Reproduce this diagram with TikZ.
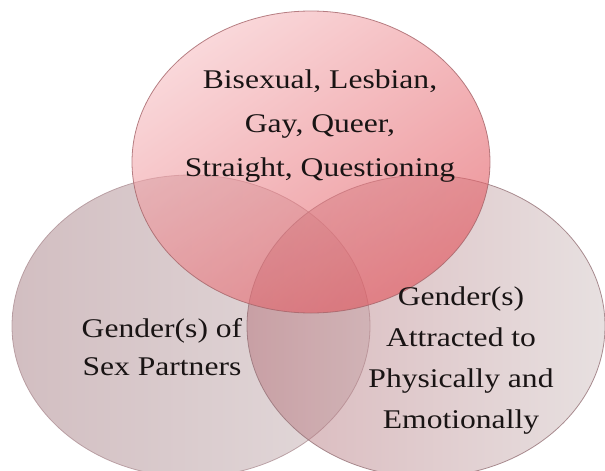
\documentclass[tikz,border=0pt]{standalone}
\usepackage{fontspec}
\usepackage{graphicx}
\setmainfont{Liberation Serif}
\usetikzlibrary{shapes.geometric}
\definecolor{topA}{RGB}{246,190,194}
\definecolor{topB}{RGB}{224,78,86}
\definecolor{leftA}{RGB}{165,125,131}
\definecolor{leftB}{RGB}{200,182,184}
\definecolor{rightA}{RGB}{180,112,120}
\definecolor{rightB}{RGB}{208,194,194}
\definecolor{topLine}{RGB}{165,100,105}
\definecolor{leftLine}{RGB}{175,145,150}
\definecolor{rightLine}{RGB}{150,115,120}
\definecolor{txt}{RGB}{25,20,20}
\tikzset{
  venn/.style={ellipse, minimum width=358pt, minimum height=302pt, inner sep=0pt,
    line width=0.8pt, draw opacity=0.8},
  lbl/.style={anchor=base, inner sep=0pt, text=txt},
}
\newcommand{\lblbox}[2]{\fontsize{27}{#1}\selectfont\scalebox{1.17}[1]{\begin{tabular}[t]{@{}c@{}}#2\end{tabular}}}
\begin{document}
\begin{tikzpicture}[x=1pt,y=-1pt]
\useasboundingbox (0,0) rectangle (605,471);
\node[venn, draw=leftLine, fill opacity=0.5, left color=leftA, right color=leftB] (L) at (191,326) {};
\node[venn, draw=rightLine, fill opacity=0.5, left color=rightA, right color=rightB] (R) at (426,326) {};
\node[venn, draw=topLine, fill opacity=0.6, shading=axis, top color=topA, bottom color=topB, shading angle=35] (T) at (311,162) {};
\node[lbl] (tT) at (320,88) {\lblbox{44}{Bisexual, Lesbian,\\Gay, Queer,\\Straight, Questioning}};
\node[lbl] (tL) at (162,337) {\lblbox{38}{Gender(s) of\\Sex Partners}};
\node[lbl] (tR) at (461,305) {\lblbox{41}{Gender(s)\\Attracted to\\Physically and\\Emotionally}};
\end{tikzpicture}
\end{document}
